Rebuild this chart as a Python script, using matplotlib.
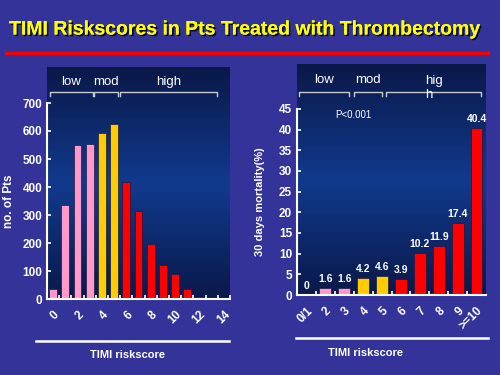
import numpy as np
import matplotlib
matplotlib.use("Agg")
import matplotlib.pyplot as plt
from matplotlib import transforms
from matplotlib import patheffects as pe
from matplotlib.colors import LinearSegmentedColormap

plt.rcParams['font.family'] = ['Liberation Sans', 'DejaVu Sans']

# ---- data ----
left_scores = list(range(15))
left_counts = [35, 335, 550, 552, 592, 625, 418, 315, 198, 120, 88, 35, 8, 5, 1]
left_groups = ['low'] * 4 + ['mod'] * 2 + ['high'] * 9
left_tick_labels = ['0', '2', '4', '6', '8', '10', '12', '14']
left_tick_pos = [0, 2, 4, 6, 8, 10, 12, 14]

right_labels = ['0/1', '2', '3', '4', '5', '6', '7', '8', '9', '>=10']
right_mort = [0, 1.6, 1.6, 4.2, 4.6, 3.9, 10.2, 11.9, 17.4, 40.4]
right_groups = ['low'] * 3 + ['mod'] * 2 + ['high'] * 5

group_colors = {'low': '#ff99cc', 'mod': '#ffcc00', 'high': '#ff0000'}

BG = '#333399'
W, H = 500, 375
fig = plt.figure(figsize=(5, 3.75), dpi=100, facecolor=BG)

def fx(px):
    return px / W

def fy(py):
    return 1 - py / H

cmap = LinearSegmentedColormap.from_list('panel', ['#0a1848', '#113a8e', '#0a1848'])

def panel(x0, y0, x1, y1):
    bg = fig.add_axes([fx(x0), fy(y1), fx(x1 - x0), (y1 - y0) / H])
    grad = np.linspace(0, 1, 256).reshape(-1, 1)
    bg.imshow(grad, aspect='auto', cmap=cmap, extent=[0, 1, 0, 1])
    bg.set_axis_off()
    return bg

def style_axes(ax):
    ax.set_facecolor('none')
    for s in ['top', 'right']:
        ax.spines[s].set_visible(False)
    for s in ['left', 'bottom']:
        ax.spines[s].set_color('white')
        ax.spines[s].set_linewidth(1.5)
    ax.tick_params(axis='y', colors='white', direction='in', length=3, width=1.2,
                   labelsize=8.5)

def bracket(ax, x0, x1, label, ly):
    tr = transforms.blended_transform_factory(ax.transData, fig.transFigure)
    yb, ye = fy(91.7), fy(95.5)
    ax.plot([x0, x0, x1, x1], [ye, yb, yb, ye], transform=tr, color='#c8c8d0',
            lw=1.0, clip_on=False)
    ax.text((x0 + x1) / 2, ly, label, transform=tr, color='white', fontsize=9.5,
            ha='center', va='center', multialignment='left', linespacing=1.15)

# ---------- left chart ----------
panel(47, 67, 230, 300)
axL = fig.add_axes([fx(47), fy(299), fx(230 - 47), (299 - 103) / H])
style_axes(axL)
axL.bar(left_scores, left_counts, width=0.64,
        color=[group_colors[g] for g in left_groups], edgecolor='#1a1a40', linewidth=0.5)
axL.set_xlim(-0.5, 14.5)
axL.set_ylim(0, 700)
axL.set_yticks(range(0, 701, 100))
axL.set_yticklabels([str(v) for v in range(0, 701, 100)], fontweight='bold')
axL.set_xticks(np.arange(0.5, 14.6, 1.0))
axL.set_xticklabels([])
axL.tick_params(axis='x', which='major', colors='white', direction='in', length=3, width=1.2)
axL.set_xticks(left_tick_pos, minor=True)
axL.set_xticklabels(left_tick_labels, minor=True, rotation=45, ha='right',
                    rotation_mode='anchor', color='white', fontweight='bold', fontsize=8.5)
axL.tick_params(axis='x', which='minor', length=0, pad=7)
axL.set_ylabel('no. of Pts', color='white', fontsize=8.5, fontweight='bold', labelpad=5)
bracket(axL, -0.27, 3.23, 'low', fy(81.7))
bracket(axL, 3.32, 5.35, 'mod', fy(81.7))
bracket(axL, 5.49, 13.45, 'high', fy(81.7))

# ---------- right chart ----------
panel(297, 64, 486, 296)
axR = fig.add_axes([fx(297), fy(295), fx(486 - 297), (295 - 109) / H])
style_axes(axR)
xr = np.arange(len(right_labels))
axR.bar(xr, right_mort, width=0.62,
        color=[group_colors[g] for g in right_groups], edgecolor='#1a1a40', linewidth=0.5)
for x, v in zip(xr, right_mort):
    axR.text(x, v + 1.0, f'{v:g}', color='white', fontsize=7.5, fontweight='bold',
             ha='center', va='bottom')
axR.set_xlim(-0.5, 9.5)
axR.set_ylim(0, 45)
axR.set_yticks(range(0, 46, 5))
axR.set_yticklabels([str(v) for v in range(0, 46, 5)], fontweight='bold')
axR.set_xticks(np.arange(0.5, 9.0, 1.0))
axR.set_xticklabels([])
axR.tick_params(axis='x', which='major', colors='white', direction='in', length=3, width=1.2)
axR.set_xticks(xr, minor=True)
axR.set_xticklabels(right_labels, minor=True, rotation=45, ha='right',
                    rotation_mode='anchor', color='white', fontweight='bold', fontsize=8.5)
axR.tick_params(axis='x', which='minor', length=0, pad=7)
axR.set_ylabel('30 days mortality(%)', color='white', fontsize=8, fontweight='bold', labelpad=10)
axR.text(2.5, 43.5, 'P<0.001', color='white', fontsize=7, ha='center', va='center')
bracket(axR, -0.39, 2.25, 'low', fy(80))
bracket(axR, 2.5, 3.99, 'mod', fy(80))
bracket(axR, 4.22, 9.26, 'hig\nh', fy(88))

# ---------- bottom lines and x labels ----------
fig.add_artist(plt.Line2D([fx(36), fx(229)], [fy(341), fy(341)], color='white', lw=1.8))
fig.text(fx(128), fy(355), 'TIMI riskscore', color='white', fontsize=8, fontweight='bold',
         ha='center', va='center')
fig.add_artist(plt.Line2D([fx(296), fx(488)], [fy(337.5), fy(337.5)], color='white', lw=1.8))
fig.text(fx(365), fy(353), 'TIMI riskscore', color='white', fontsize=8, fontweight='bold',
         ha='center', va='center')

# ---------- title ----------
fig.text(fx(245), fy(30), 'TIMI Riskscores in Pts Treated with Thrombectomy',
         color='#ffff00', fontsize=14, fontweight='bold', ha='center', va='center',
         path_effects=[pe.withSimplePatchShadow(offset=(1.2, -1.2), shadow_rgbFace='#000022', alpha=0.9),
                       pe.Normal()])
fig.add_artist(plt.Line2D([fx(6), fx(488)], [fy(53), fy(53)], color='#ff0000', lw=2.4))

fig.savefig('out.png', dpi=100, facecolor=BG)
